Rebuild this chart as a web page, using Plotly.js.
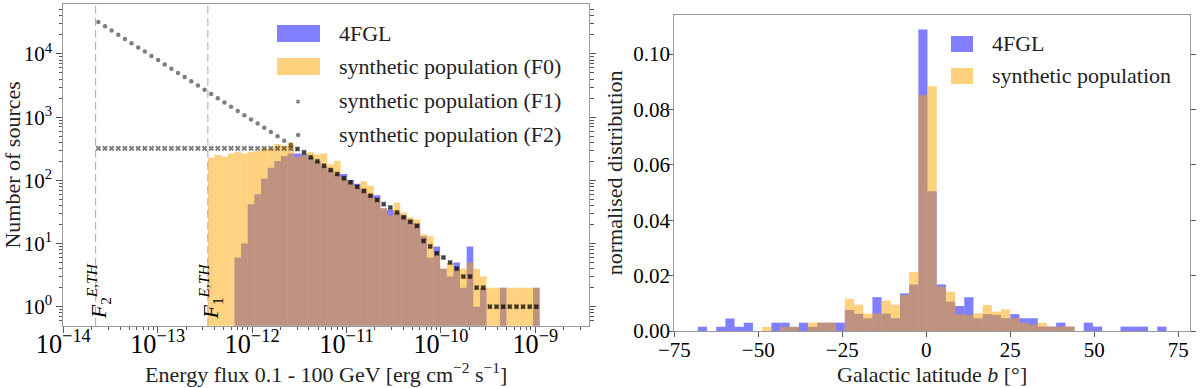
<!DOCTYPE html>
<html>
<head>
<meta charset="utf-8">
<script src="https://cdn.plot.ly/plotly-3.0.1.min.js"></script>
<style>
  html, body { margin: 0; padding: 0; background: #fff; }
  #chart { width: 1200px; height: 388px; }
</style>
</head>
<body>
<div id="chart"></div>
<script>
// --- Left panel: energy flux distribution (log bins) ---
const F2_THRESHOLD = 2.2e-14;   // F_2^{E,TH}
const F1_THRESHOLD = 3.4e-13;   // F_1^{E,TH}, first histogram edge
const LOG_BIN_WIDTH = 0.0703;   // decades per bin
const MARKER_FIRST_BIN = -17;   // model markers start at the F2 threshold

// 50 bins starting at F1 threshold
const n4FGL = [
  0, 0, 0, 0, 6, 10, 42, 60, 107, 158,
  202, 242, 267, 267, 262, 236, 205, 170, 150, 128,
  126, 101, 88, 72, 60, 58, 36, 34, 31, 28,
  24, 21, 13, 6, 9, 4, 3, 5, 2, 9,
  1, 2, 0, 0, 2, 0, 0, 0, 0, 2
];
const nF0 = [
  228, 251, 236, 267, 283, 267, 283, 291, 321, 321,
  375, 352, 393, 236, 250, 277, 258, 267, 179, 204,
  112, 97, 82, 97, 82, 52, 36, 28, 44, 31,
  26, 24, 14, 13, 7, 4, 5, 4, 4, 5,
  4, 3, 2, 2, 2, 2, 2, 2, 2, 2
];
// bins -17 .. 49
const nF1 = [
  320, 320, 320, 320, 320, 320, 320, 320, 320, 320,
  320, 320, 320, 320, 320, 320, 320, 320, 320, 320,
  320, 320, 320, 320, 320, 320, 320, 320, 320, 320,
  313, 277, 231, 200, 170, 146, 126, 108, 93, 79,
  68, 57, 49, 42, 37, 31, 26, 22, 19, 11,
  9, 7, 6, 5, 4, 3, 3, 2, 2, 1,
  1, 1, 1, 1, 1, 1, 1
];
const nF2 = [
  32000, 27400, 23500, 20100, 17300, 14800, 12700, 10900, 9300, 8000,
  6840, 5860, 5020, 4310, 3690, 3160, 2710, 2320, 1990, 1710,
  1460, 1250, 1070, 920, 790, 680, 580, 500, 425, 365,
  313, 277, 231, 200, 170, 146, 126, 108, 93, 79,
  68, 57, 49, 42, 37, 31, 26, 22, 19, 11,
  9, 7, 6, 5, 4, 3, 3, 2, 2, 1,
  1, 1, 1, 1, 1, 1, 1
];
const countTicks = [1, 10, 100, 1000, 10000];
const countTickText = ['10<sup>0</sup>', '10<sup>1</sup>', '10<sup>2</sup>', '10<sup>3</sup>', '10<sup>4</sup>'];

// --- Right panel: galactic latitude ---
const LAT_MIN = -68.0;
const LAT_BIN_WIDTH = 2.735;
const lat4FGL = [
  0.0015, 0, 0.0015, 0.0045, 0.0015, 0.003, 0, 0, 0.003, 0.003,
  0.0015, 0.003, 0.0015, 0.003, 0.003, 0.003, 0.0076, 0.0062, 0.0046, 0.0122,
  0.0063, 0.0046, 0.0136, 0.0168, 0.1089, 0.0505, 0.0168, 0.0106, 0.009, 0.0122,
  0.0046, 0.0061, 0.0058, 0.0046, 0.0061, 0.0046, 0.0046, 0.0016, 0.0016, 0.003,
  0.0016, 0, 0.003, 0.0016, 0, 0, 0.0016, 0.0016, 0.0016, 0,
  0.0016
];
const latSynth = [
  0, 0, 0, 0, 0, 0, 0, 0.0015, 0, 0.0015,
  0.0015, 0, 0.003, 0.003, 0.003, 0, 0.0116, 0.0095, 0.0063, 0.0063,
  0.011, 0.0095, 0.013, 0.0213, 0.0852, 0.0884, 0.016, 0.0142, 0.0061, 0.0058,
  0.0064, 0.0094, 0.007, 0.0078, 0.0046, 0.003, 0.0024, 0.003, 0.0016, 0.0016,
  0.0016, 0, 0, 0, 0, 0, 0, 0, 0, 0,
  0
];

const BLUE = 'rgba(0,0,255,0.5)';
const ORANGE = 'rgba(255,165,0,0.5)';
const MARK = 'rgba(0,0,0,0.5)';
const FONT = 'Liberation Serif, serif';

const logF1 = Math.log10(F1_THRESHOLD);
const logF2 = Math.log10(F2_THRESHOLD);
const centres = (start, width, first, count) =>
  Array.from({ length: count }, (_, i) => start + (first + i + 0.5) * width);

const fluxX = centres(logF1, LOG_BIN_WIDTH, 0, n4FGL.length);
const markX = centres(logF1, LOG_BIN_WIDTH, MARKER_FIRST_BIN, nF1.length);
const latX = centres(LAT_MIN, LAT_BIN_WIDTH, 0, lat4FGL.length);

// minor ticks 2..9 in every decade of the count axis
const countMinor = [];
for (let e = -1; e <= 4; e++) {
  for (let d = 2; d <= 9; d++) {
    const v = d * Math.pow(10, e);
    if (v > 0.5 && v < 6e4) countMinor.push(v);
  }
}

const traces = [
  { type: 'bar', x: fluxX, y: n4FGL, width: LOG_BIN_WIDTH, marker: { color: BLUE, line: { width: 0 } }, xaxis: 'x', yaxis: 'y' },
  { type: 'bar', x: fluxX, y: nF0, width: LOG_BIN_WIDTH, marker: { color: ORANGE, line: { width: 0 } }, xaxis: 'x', yaxis: 'y' },
  { type: 'scatter', mode: 'markers', x: markX, y: nF1, marker: { symbol: 'x', size: 5, color: MARK, line: { width: 0 } }, xaxis: 'x', yaxis: 'y' },
  { type: 'scatter', mode: 'markers', x: markX, y: nF2, marker: { symbol: 'circle', size: 4.5, color: MARK, line: { width: 0 } }, xaxis: 'x', yaxis: 'y' },
  { type: 'bar', x: latX, y: lat4FGL, width: LAT_BIN_WIDTH, marker: { color: BLUE, line: { width: 0 } }, xaxis: 'x2', yaxis: 'y2' },
  { type: 'bar', x: latX, y: latSynth, width: LAT_BIN_WIDTH, marker: { color: ORANGE, line: { width: 0 } }, xaxis: 'x2', yaxis: 'y2' },
  // keeps the log display axis alive
  { type: 'scatter', x: [], y: [], xaxis: 'x3', yaxis: 'y', hoverinfo: 'skip' }
];

const W = 1200, H = 388;
const px = x => x / W;
const py = y => 1 - y / H;

const axisCommon = {
  showgrid: false, zeroline: false, showline: true, linecolor: '#999', linewidth: 1,
  ticks: 'outside', tickcolor: '#555', ticklen: 6, tickwidth: 1,
  tickfont: { family: FONT, size: 21, color: '#000' }
};
const titleFont = { family: FONT, size: 22, color: '#222' };
const LEFT_RANGE = [-14, -8.431];

const shapes = [
  { type: 'line', xref: 'x', yref: 'y domain', x0: logF2, x1: logF2, y0: 0, y1: 1, line: { color: '#aaa', width: 1, dash: '8px,4px' } },
  { type: 'line', xref: 'x', yref: 'y domain', x0: logF1, x1: logF1, y0: 0, y1: 1, line: { color: '#aaa', width: 1, dash: '8px,4px' } },
  // legend patches
  { type: 'rect', xref: 'paper', yref: 'paper', x0: px(277), x1: px(320), y0: py(42), y1: py(25), fillcolor: BLUE, line: { width: 0 } },
  { type: 'rect', xref: 'paper', yref: 'paper', x0: px(277), x1: px(320), y0: py(75), y1: py(58), fillcolor: ORANGE, line: { width: 0 } },
  { type: 'path', xref: 'paper', yref: 'paper',
    path: `M${px(296.5)},${py(100.2)} L${px(299.5)},${py(103.2)} M${px(296.5)},${py(103.2)} L${px(299.5)},${py(100.2)}`,
    line: { color: MARK, width: 1.8 } },
  { type: 'circle', xref: 'paper', yref: 'paper', x0: px(296), x1: px(300.4), y0: py(137.2), y1: py(132.8), fillcolor: MARK, line: { width: 0 } },
  { type: 'rect', xref: 'paper', yref: 'paper', x0: px(951), x1: px(973), y0: py(52), y1: py(36), fillcolor: BLUE, line: { width: 0 } },
  { type: 'rect', xref: 'paper', yref: 'paper', x0: px(951), x1: px(973), y0: py(84), y1: py(68), fillcolor: ORANGE, line: { width: 0 } }
];

const legendText = (x, y, text) => ({
  xref: 'paper', yref: 'paper', x: px(x), y: py(y), xanchor: 'left', yanchor: 'middle',
  text, showarrow: false, font: { family: FONT, size: 22, color: '#222' }
});

const annotations = [
  legendText(337, 33, '4FGL'),
  legendText(337, 66, 'synthetic population (F0)'),
  legendText(337, 101, 'synthetic population (F1)'),
  legendText(337, 134, 'synthetic population (F2)'),
  legendText(990, 43, '4FGL'),
  legendText(990, 76, 'synthetic population'),
  { xref: 'x', yref: 'y domain', x: logF2, y: 0, xanchor: 'center', yanchor: 'bottom', xshift: 3, yshift: 4,
    textangle: -90, showarrow: false, text: '<i>F</i><sub>2</sub><sup><i>E,TH</i></sup>',
    font: { family: FONT, size: 22, color: '#000' } },
  { xref: 'x', yref: 'y domain', x: logF1, y: 0, xanchor: 'center', yanchor: 'bottom', xshift: 3, yshift: 4,
    textangle: -90, showarrow: false, text: '<i>F</i><sub>1</sub><sup><i>E,TH</i></sup>',
    font: { family: FONT, size: 22, color: '#000' } }
];

const layout = {
  width: W, height: H,
  margin: { l: 0, r: 0, t: 0, b: 0 },
  paper_bgcolor: '#fff', plot_bgcolor: '#fff',
  font: { family: FONT, size: 21, color: '#000' },
  barmode: 'overlay',
  showlegend: false,
  xaxis: { domain: [px(63.3), px(589)], range: LEFT_RANGE, type: 'linear', visible: false, anchor: 'y' },
  xaxis3: Object.assign({}, axisCommon, {
    type: 'log', overlaying: 'x', anchor: 'y', range: LEFT_RANGE, dtick: 1,
    exponentformat: 'power', mirror: true, ticklabelstandoff: -10,
    minor: { ticks: 'outside', ticklen: 3.5, tickcolor: '#555', dtick: 'D1', showgrid: false },
    title: { text: 'Energy flux 0.1 - 100 GeV [erg cm<sup>−2</sup> s<sup>−1</sup>]', standoff: 0, font: titleFont }
  }),
  yaxis: Object.assign({}, axisCommon, {
    type: 'log', domain: [py(325.7), py(4)], range: [-0.301, 4.791],
    tickmode: 'array', tickvals: countTicks, ticktext: countTickText,
    mirror: 'ticks', anchor: 'x',
    minor: { ticks: 'outside', ticklen: 3.5, tickcolor: '#555', tickmode: 'array', tickvals: countMinor, showgrid: false },
    title: { text: 'Number of sources', standoff: 4, font: titleFont }
  }),
  xaxis2: Object.assign({}, axisCommon, {
    domain: [px(674.3), px(1190)], range: [-75.0, 78.5], tick0: 0, dtick: 25, mirror: true, anchor: 'y2', ticklen: 5,
    ticklabelstandoff: -5,
    title: { text: 'Galactic latitude <i>b</i> [°]', standoff: 3, font: titleFont }
  }),
  yaxis2: Object.assign({}, axisCommon, {
    domain: [py(331), py(14.7)], range: [0, 0.1142], dtick: 0.02, tickformat: '.2f', mirror: 'ticks', anchor: 'x2', ticklen: 5,
    ticklabelstandoff: -6,
    title: { text: 'normalised distribution', standoff: 4, font: titleFont }
  }),
  shapes,
  annotations
};

Plotly.newPlot('chart', traces, layout, { staticPlot: true });
</script>
</body>
</html>
